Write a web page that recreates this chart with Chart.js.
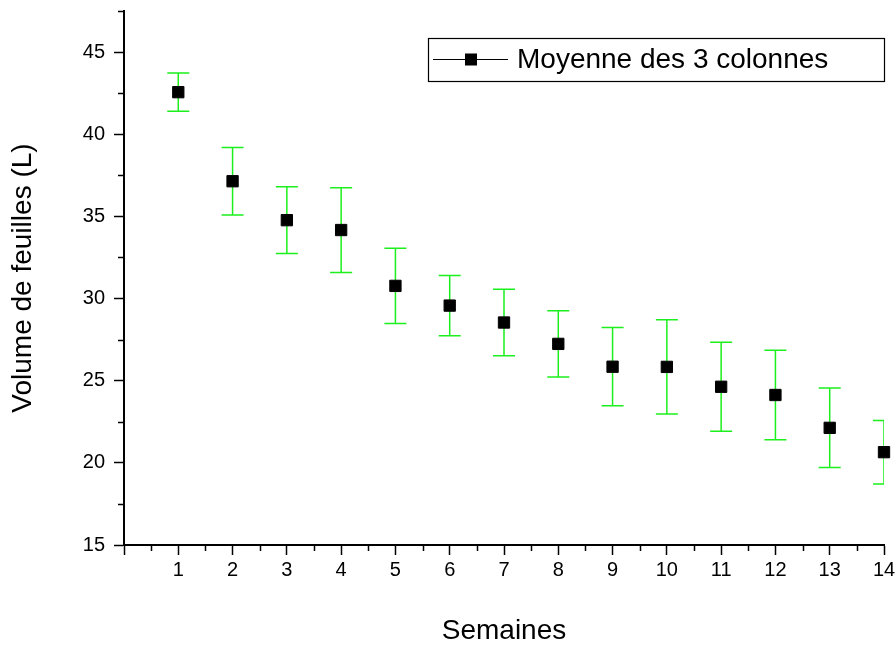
<!DOCTYPE html>
<html>
<head>
<meta charset="utf-8">
<title>Volume de feuilles</title>
<script src="https://cdn.jsdelivr.net/npm/chart.js@4/dist/chart.umd.min.js"></script>
<style>
  html, body { margin: 0; padding: 0; background: #fff; }
  #wrap { width: 896px; height: 648px; }
</style>
</head>
<body>
<div id="wrap"><canvas id="chart"></canvas></div>
<script>
// Weekly mean leaf volume with spread across the 3 columns
const weeks = [1, 2, 3, 4, 5, 6, 7, 8, 9, 10, 11, 12, 13, 14]
const means = [42.56, 37.14, 34.77, 34.17, 30.77, 29.57, 28.54, 27.24, 25.85, 25.84, 24.63, 24.13, 22.13, 20.65]
const errors = [1.16, 2.06, 2.03, 2.58, 2.29, 1.83, 2.02, 2.01, 2.38, 2.87, 2.71, 2.73, 2.42, 1.93]

// Axis ticks
const xTicks = [0, 1, 2, 3, 4, 5, 6, 7, 8, 9, 10, 11, 12, 13, 14]
const yTicks = [15, 20, 25, 30, 35, 40, 45]
const xMinorStep = 0.5
const yMinorStep = 2.5

const FONT = "'Liberation Sans', Arial, sans-serif"

// Green error bars with caps, clipped to the plot area
const errorBars = {
  id: "errorBars",
  beforeDatasetsDraw(chart) {
    const { ctx, chartArea, scales } = chart
    const x = scales.x
    const y = scales.y
    ctx.save()
    ctx.beginPath()
    ctx.rect(chartArea.left, chartArea.top, chartArea.right - chartArea.left, chartArea.bottom - chartArea.top)
    ctx.clip()
    ctx.strokeStyle = "#1cf01c"
    ctx.lineWidth = 1.5
    const cap = 11
    weeks.forEach((w, i) => {
      const px = x.getPixelForValue(w)
      const top = y.getPixelForValue(means[i] + errors[i])
      const bot = y.getPixelForValue(means[i] - errors[i])
      ctx.beginPath()
      ctx.moveTo(px, top)
      ctx.lineTo(px, bot)
      ctx.moveTo(px - cap, top)
      ctx.lineTo(px + cap, top)
      ctx.moveTo(px - cap, bot)
      ctx.lineTo(px + cap, bot)
      ctx.stroke()
    })
    ctx.restore()
  },
}

// Short minor ticks between the labelled ones
const minorTicks = {
  id: "minorTicks",
  afterDraw(chart) {
    const { ctx, chartArea, scales } = chart
    const x = scales.x
    const y = scales.y
    ctx.save()
    ctx.strokeStyle = "#000"
    ctx.lineWidth = 1.5
    ctx.beginPath()
    for (let v = x.min; v <= x.max + 1e-9; v += xMinorStep) {
      if (xTicks.includes(v)) continue
      const px = Math.round(x.getPixelForValue(v)) + 0.5
      ctx.moveTo(px, chartArea.bottom)
      ctx.lineTo(px, chartArea.bottom + 6)
    }
    for (let v = y.min; v <= y.max + 1e-9; v += yMinorStep) {
      if (yTicks.includes(v)) continue
      const py = Math.round(y.getPixelForValue(v)) + 0.5
      ctx.moveTo(chartArea.left, py)
      ctx.lineTo(chartArea.left - 6, py)
    }
    ctx.stroke()
    ctx.restore()
  },
}

// Framed legend: line through a square marker, then the series name
const boxLegend = {
  id: "boxLegend",
  afterDraw(chart) {
    const { ctx } = chart
    const ds = chart.data.datasets[0]
    const left = 428, top = 38, right = 884, bottom = 81
    const mid = (top + bottom) / 2
    ctx.save()
    ctx.strokeStyle = "#000"
    ctx.lineWidth = 1.2
    ctx.strokeRect(left + 0.5, top + 0.5, right - left, bottom - top)
    ctx.beginPath()
    ctx.lineWidth = 1
    ctx.moveTo(433, mid)
    ctx.lineTo(508, mid)
    ctx.stroke()
    ctx.fillStyle = "#000"
    ctx.fillRect(465, mid - 6, 12, 12)
    ctx.font = "28px " + FONT
    ctx.textBaseline = "middle"
    ctx.fillText(ds.label, 517, mid + 1)
    ctx.restore()
  },
}

const ctx = document.getElementById("chart").getContext("2d")

new Chart(ctx, {
  type: "scatter",
  data: {
    datasets: [
      {
        label: "Moyenne des 3 colonnes",
        data: weeks.map((w, i) => ({ x: w, y: means[i] })),
        showLine: false,
        clip: false,
        pointStyle: "rect",
        pointRadius: 8,
        pointHoverRadius: 8,
        pointBackgroundColor: "#000",
        pointBorderColor: "#000",
        pointBorderWidth: 1,
      },
    ],
  },
  options: {
    responsive: true,
    maintainAspectRatio: false,
    animation: false,
    layout: { padding: { top: 11, right: 12, left: 0, bottom: 0 } },
    plugins: {
      legend: { display: false },
      tooltip: { enabled: false },
    },
    scales: {
      x: {
        type: "linear",
        min: 0,
        max: 14,
        afterBuildTicks: (scale) => {
          scale.ticks = xTicks.map((v) => ({ value: v }))
        },
        afterFit: (scale) => {
          scale.height = 103
          scale.paddingLeft = 0
          scale.paddingRight = 0
        },
        ticks: {
          color: "#000",
          font: { family: FONT, size: 20 },
          padding: 3,
          maxRotation: 0,
          autoSkip: false,
          callback: (v) => (v === 0 ? "" : v),
        },
        grid: {
          drawOnChartArea: false,
          tickLength: 10,
          tickWidth: 1.5,
          tickColor: "#000",
        },
        border: { color: "#000", width: 2 },
        title: {
          display: true,
          text: "Semaines",
          color: "#000",
          font: { family: FONT, size: 28 },
          padding: { top: 0, bottom: 0 },
        },
      },
      y: {
        type: "linear",
        min: 15,
        max: 47.5,
        afterBuildTicks: (scale) => {
          scale.ticks = yTicks.map((v) => ({ value: v }))
        },
        afterFit: (scale) => {
          scale.width = 124
          scale.paddingTop = 0
          scale.paddingBottom = 0
        },
        ticks: {
          color: "#000",
          font: { family: FONT, size: 20 },
          padding: 9,
        },
        grid: {
          drawOnChartArea: false,
          tickLength: 10,
          tickWidth: 1.5,
          tickColor: "#000",
        },
        border: { color: "#000", width: 2 },
        title: {
          display: true,
          text: "Volume de feuilles (L)",
          color: "#000",
          font: { family: FONT, size: 28 },
          padding: { top: 6, bottom: 0 },
        },
      },
    },
  },
  plugins: [errorBars, minorTicks, boxLegend],
})
</script>
</body>
</html>
